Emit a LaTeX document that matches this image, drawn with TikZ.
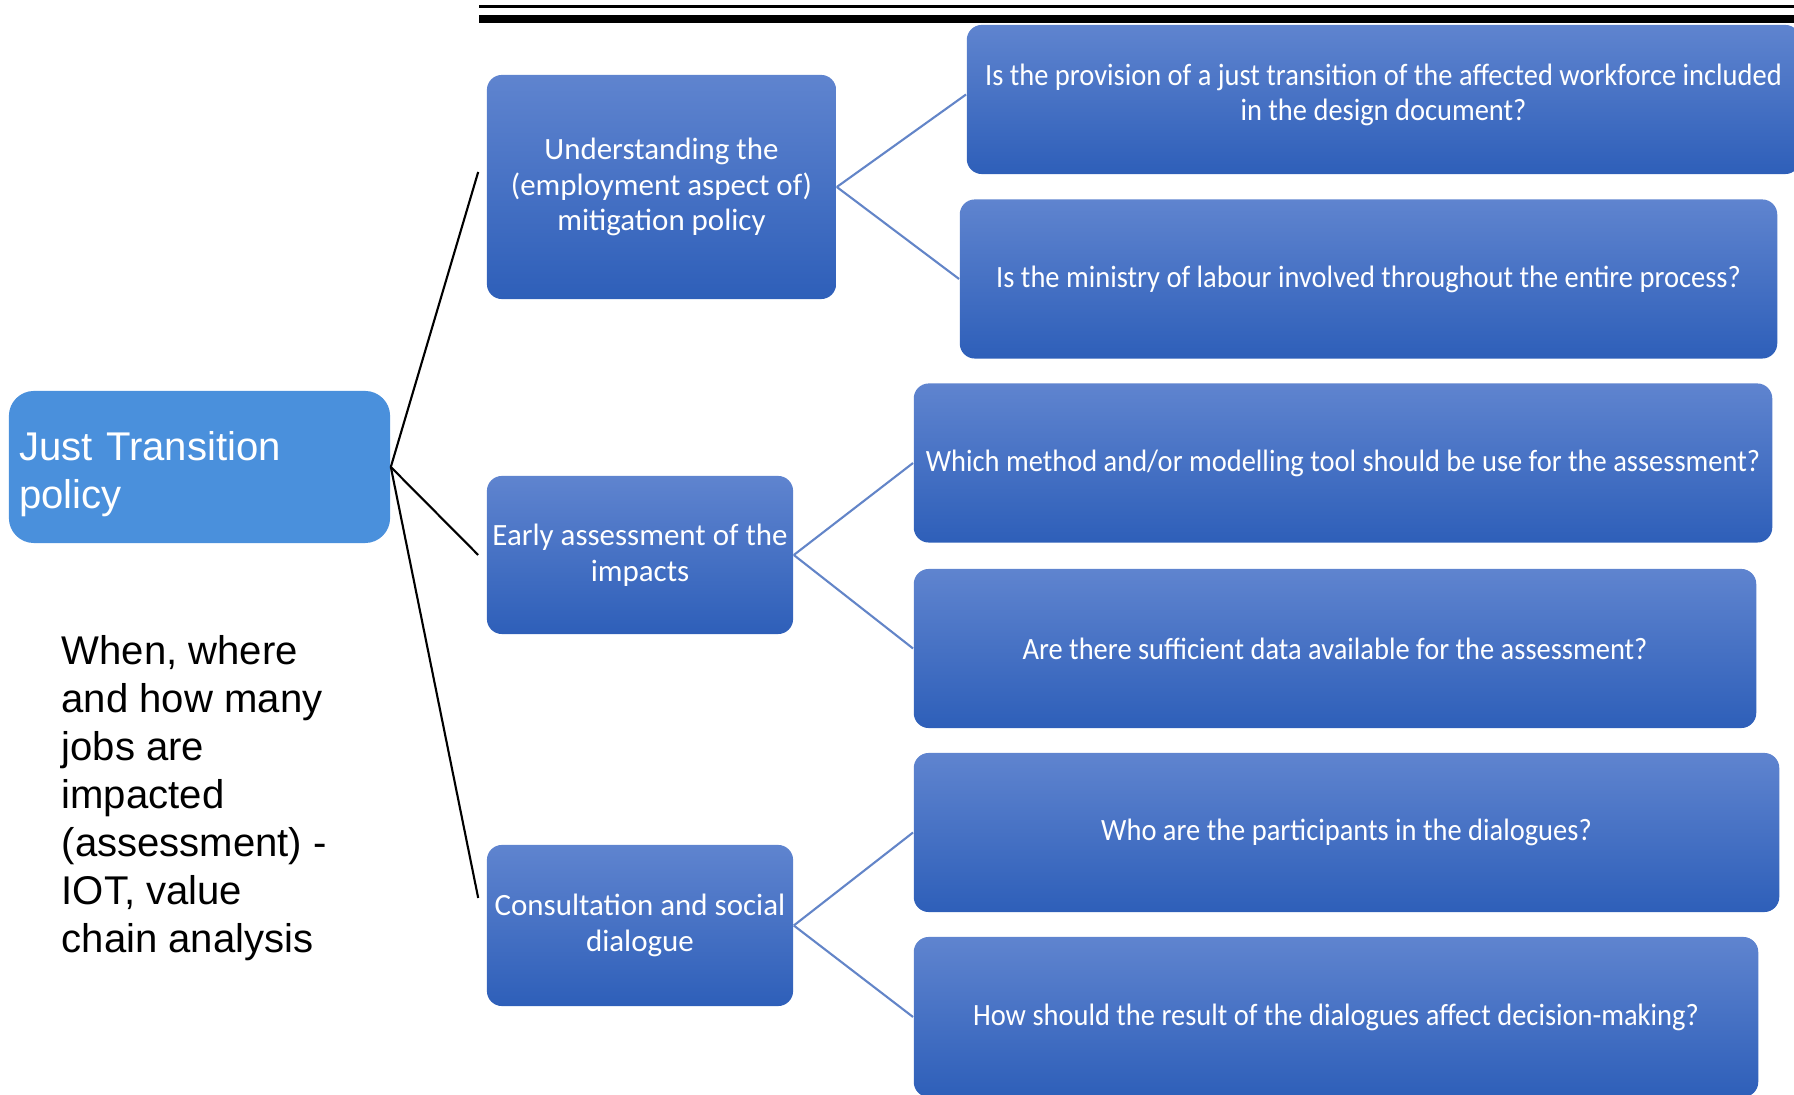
\documentclass[tikz,border=0pt]{standalone}
\usepackage{fontspec}
\setmainfont{Liberation Sans}
\newfontfamily\boxfont{Carlito}
\newfontfamily\askfont[FakeStretch=0.92]{Carlito}
\definecolor{rootblue}{HTML}{4A90DC}
\definecolor{boxtop}{HTML}{5F84CF}
\definecolor{boxbot}{HTML}{2E5FB9}
\definecolor{linkblue}{HTML}{6385C8}

\begin{document}
\begin{tikzpicture}[x=0.01cm, y=-0.01cm,
  topic/.style={rectangle, rounded corners=0.15cm, top color=boxtop, bottom color=boxbot, text=white, align=center, inner sep=0pt, font=\boxfont\fontsize{8.8}{10.1}\selectfont},
  question/.style={topic, minimum height=1.59cm, font=\askfont\fontsize{8.8}{10.1}\selectfont},
  jtlink/.style={black, line width=0.6pt},
  qlink/.style={linkblue, line width=0.6pt}]
\useasboundingbox (0,0) rectangle (1794,1095);

\fill (479,5.5) rectangle (1794,8);
\fill (479,15.5) rectangle (1794,23);

\node (root) at (199.5,467) [rectangle, rounded corners=0.25cm, fill=rootblue, minimum width=3.81cm, minimum height=1.52cm, text width=3.6cm, inner xsep=0.105cm, text depth=12pt, align=left, text=white, font=\fontsize{11.4}{13.7}\selectfont] {Just Transition\\policy};
\node (note) at (61,635) [anchor=north west, inner sep=0pt, align=left, font=\fontsize{11.4}{13.66}\selectfont] {When, where\\and how many\\jobs are\\impacted\\(assessment) -\\IOT, value\\chain analysis};

\node (mitig) at (661.5,187) [topic, minimum width=3.49cm, minimum height=2.24cm] {Understanding the\\(employment aspect of)\\mitigation policy};
\node (early) at (640,555) [topic, minimum width=3.06cm, minimum height=1.58cm] {Early assessment of the\\impacts};
\node (consult) at (640,925.5) [topic, minimum width=3.06cm, minimum height=1.61cm] {Consultation and social\\dialogue};

\node (qdesign) at (1383.5,99.5) [question, minimum width=8.33cm, minimum height=1.49cm] {Is the provision of a just transition of the affected workforce included\\in the design document?\\[-6pt]};
\node (qlabour) at (1368.5,279) [question, minimum width=8.17cm] {Is the ministry of labour involved throughout the entire process?};
\node (qmethod) at (1343,463) [question, minimum width=8.58cm] {Which method and/or modelling tool should be use for the assessment?};
\node (qdata) at (1335,648.5) [question, minimum width=8.42cm] {Are there sufficient data available for the assessment?};
\node (qwho) at (1346.5,832.5) [question, minimum width=8.65cm] {Who are the participants in the dialogues?};
\node (qresult) at (1336,1017) [question, minimum width=8.44cm, minimum height=1.6cm] {How should the result of the dialogues affect decision-making?};

\draw[jtlink] (root.east) -- ([xshift=-0.08cm, yshift=0.15cm]mitig.west);
\draw[jtlink] (root.east) -- ([xshift=-0.08cm]early.west);
\draw[jtlink] (root.east) -- ([xshift=-0.08cm, yshift=0.275cm]consult.west);

\draw[qlink] (mitig.east) -- ([yshift=0.05cm]qdesign.west);
\draw[qlink] (mitig.east) -- (qlabour.west);
\draw[qlink] (early.east) -- (qmethod.west);
\draw[qlink] (early.east) -- (qdata.west);
\draw[qlink] (consult.east) -- (qwho.west);
\draw[qlink] (consult.east) -- (qresult.west);
\end{tikzpicture}
\end{document}
